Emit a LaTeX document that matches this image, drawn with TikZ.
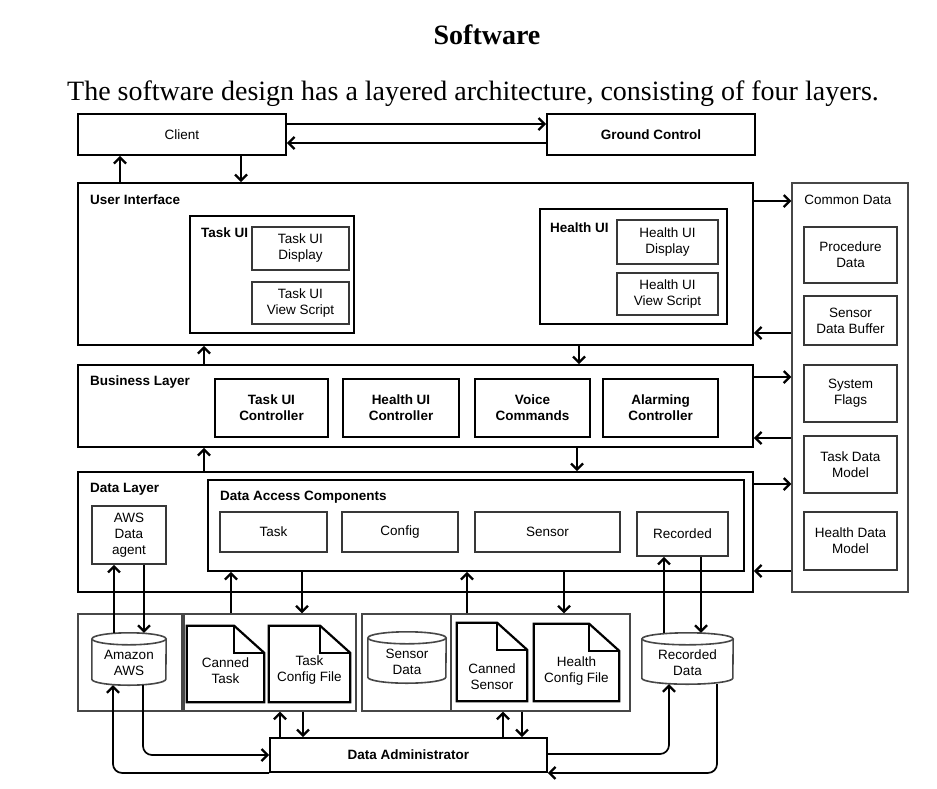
\documentclass[tikz,border=0pt]{standalone}
\usepackage{fontspec}
\setmainfont{Liberation Serif}
\setsansfont{Liberation Sans}
\usetikzlibrary{arrows.meta,calc}
\newcommand\mycyl[2]{%
  \draw[cylline] ($(#1.north west)+(0,6)$) -- ($(#1.south west)+(0,-6)$)
    arc[start angle=180,end angle=0,x radius=#2,y radius=6] -- ($(#1.north east)+(0,6)$);
  \draw[cylline] ($(#1.north)+(0,6)$) ellipse [x radius=#2, y radius=6];}
\newcommand\mydoc[1]{%
  \draw[docline] (#1.north west) -- ($(#1.north east)+(-30,0)$) -- ($(#1.north east)+(0,27)$)
    -- (#1.south east) -- (#1.south west) -- cycle;
  \draw[docline] ($(#1.north east)+(-30,0)$) -- ($(#1.north east)+(-30,27)$) -- ($(#1.north east)+(0,27)$);}
\tikzset{
 sz/.style 2 args={minimum width=#1pt, minimum height=#2pt},
 box/.style={draw=black, line width=1.9pt, inner sep=0pt, font=\sffamily\fontsize{13.5}{16}\selectfont, align=center},
 bbox/.style={box, font=\sffamily\bfseries\fontsize{13.5}{16}\selectfont},
 ibox/.style={box, draw=black!78, line width=1.8pt},
 grp/.style={draw=black!72, line width=1.4pt, inner sep=0pt},
 shp/.style={inner sep=0pt},
 lbl/.style={font=\sffamily\fontsize{13.5}{16}\selectfont, align=center, inner sep=0pt},
 txt/.style={font=\sffamily\fontsize{13.5}{16}\selectfont, align=center, inner sep=0pt},
 btxt/.style={font=\sffamily\bfseries\fontsize{13.5}{16}\selectfont, inner sep=0pt},
 arr/.style={line width=1.7pt, -{Straight Barb[length=6pt,width=12pt,line width=2.2pt]}},
 cylline/.style={draw=black!72, line width=1.6pt},
 docline/.style={draw=black, line width=2.2pt, line join=miter},
}
\begin{document}
\begin{tikzpicture}[x=1pt,y=-1pt]
\useasboundingbox (0,0) rectangle (937,788);
% titles
\node[font=\bfseries\fontsize{28}{32}\selectfont, inner sep=0pt] (title) at (487,35) {Software};
\node[font=\fontsize{28}{32}\selectfont, inner sep=0pt, anchor=base] (sub) at (473,100) {The software design has a layered architecture, consisting of four layers.};
% top
\node[box, sz={208}{41}] (client) at (182,134.5) {Client};
\node[bbox, sz={208}{41}] (gc) at (651,134.5) {Ground Control};
% user interface
\node[box, sz={675}{162}] (ui) at (415.5,264) {};
\node[btxt, anchor=west] (uil) at (90,200) {User Interface};
\node[box, sz={164}{117}] (tui) at (272,274.5) {};
\node[btxt, anchor=west] (tuil) at (201,233) {Task UI};
\node[ibox, sz={97}{43}] (tuid) at (300.5,248.5) {Task UI\\Display};
\node[ibox, sz={97}{42}] (tuiv) at (300.5,303) {Task UI\\View Script};
\node[box, sz={187}{115}] (hui) at (633.5,266.5) {};
\node[btxt, anchor=west] (huil) at (550,228) {Health UI};
\node[ibox, sz={101}{44}] (huid) at (667.5,242) {Health UI\\Display};
\node[ibox, sz={101}{42}] (huiv) at (667.5,294) {Health UI\\View Script};
% business layer
\node[box, sz={675}{82}] (bl) at (415.5,406) {};
\node[btxt, anchor=west] (bll) at (90,382) {Business Layer};
\node[bbox, sz={113}{58}] (tuc) at (271.5,408) {Task UI\\Controller};
\node[bbox, sz={116}{58}] (huc) at (401,408) {Health UI\\Controller};
\node[bbox, sz={115}{58}] (vc) at (532.5,408) {Voice\\Commands};
\node[bbox, sz={115}{58}] (ac) at (660.5,408) {Alarming\\Controller};
% data layer
\node[box, sz={675}{120}] (dl) at (415.5,532) {};
\node[btxt, anchor=west] (dll) at (90,489) {Data Layer};
\node[ibox, sz={74}{58}] (agent) at (129,535) {AWS\\Data\\agent};
\node[box, sz={536}{91}] (dac) at (476,525.5) {};
\node[btxt, anchor=west] (dacl) at (220,497) {Data Access Components};
\node[ibox, sz={107}{40}] (dtask) at (273.5,532) {Task};
\node[ibox, sz={116}{40}] (dconf) at (400,532) {Config};
\node[ibox, sz={145}{40}] (dsens) at (547.5,532) {Sensor};
\node[ibox, sz={91}{44}] (drec) at (682.5,534) {Recorded};
% common data
\node[grp, sz={116}{409}] (cd) at (850,387.5) {};
\node[txt] (cdl) at (848,200) {Common Data};
\node[ibox, sz={93}{56}] (pd) at (850.5,255) {Procedure\\Data};
\node[ibox, sz={93}{49}] (sdb) at (850.5,320.5) {Sensor\\Data Buffer};
\node[ibox, sz={93}{57}] (sf) at (850.5,393.5) {System\\Flags};
\node[ibox, sz={93}{57}] (tdm) at (850.5,464.5) {Task Data\\Model};
\node[ibox, sz={93}{58}] (hdm) at (850.5,541) {Health Data\\Model};
% storage groups
\node[grp, sz={104}{97}] (g1a) at (130,662.5) {};
\node[grp, sz={172}{97}] (g1b) at (270,662.5) {};
\node[grp, sz={89}{97}] (g2a) at (406.5,662.5) {};
\node[grp, sz={179}{97}] (g2b) at (540.5,662.5) {};
% cylinders
\node[shp, sz={74}{52}, label={[lbl, yshift=-4pt]center:{Amazon\\AWS}}] (aws) at (129,659) {};
\mycyl{aws}{37}
\node[shp, sz={78}{51}, label={[lbl, yshift=-4pt]center:{Sensor\\Data}}] (sdata) at (407,657.5) {};
\mycyl{sdata}{39}
\node[shp, sz={91}{51}, label={[lbl, yshift=-4pt]center:{Recorded\\Data}}] (rdata) at (687.5,658.5) {};
\mycyl{rdata}{45.5}
% documents
\node[shp, sz={77}{76}, label={[lbl, yshift=-7pt]center:{Canned\\Task}}] (ctask) at (225.5,664) {};
\mydoc{ctask}
\node[shp, sz={81}{76}, label={[lbl, yshift=-6pt]center:{Task\\Config File}}] (tcf) at (309.5,664) {};
\mydoc{tcf}
\node[shp, sz={70}{78}, label={[lbl, yshift=-15pt]center:{Canned\\Sensor}}] (csens) at (492,662) {};
\mydoc{csens}
\node[shp, sz={85}{77}, label={[lbl, yshift=-8pt]center:{Health\\Config File}}] (hcf) at (576.5,662.5) {};
\mydoc{hcf}
% admin
\node[bbox, sz={277}{34}] (admin) at (408.5,755) {Data Administrator};
% connectors
\draw[arr] (client.east |- 0,124) -- (gc.west |- 0,124);
\draw[arr] (gc.west |- 0,143) -- (client.east |- 0,143);
\draw[arr] (ui.north -| 120,0) -- (client.south -| 120,0);
\draw[arr] (client.south -| 241,0) -- (ui.north -| 241,0);
\draw[arr] (bl.north -| 204,0) -- (ui.south -| 204,0);
\draw[arr] (ui.south -| 579,0) -- (bl.north -| 579,0);
\draw[arr] (dl.north -| 204,0) -- (bl.south -| 204,0);
\draw[arr] (bl.south -| 577,0) -- (dl.north -| 577,0);
\draw[arr] (ui.east |- 0,201) -- (cd.west |- 0,201);
\draw[arr] (cd.west |- 0,333) -- (ui.east |- 0,333);
\draw[arr] (bl.east |- 0,377) -- (cd.west |- 0,377);
\draw[arr] (cd.west |- 0,438) -- (bl.east |- 0,438);
\draw[arr] (dl.east |- 0,484) -- (cd.west |- 0,484);
\draw[arr] (cd.west |- 0,571) -- (dl.east |- 0,571);
\draw[arr] (aws.north -| 114,0) -- (agent.south -| 114,0);
\draw[arr] (agent.south -| 144,0) -- (aws.north -| 144,0);
\draw[arr] (g1b.north -| 231,0) -- (dac.south -| 231,0);
\draw[arr] (dac.south -| 302,0) -- (g1b.north -| 302,0);
\draw[arr] (g2b.north -| 467,0) -- (dac.south -| 467,0);
\draw[arr] (dac.south -| 564,0) -- (g2b.north -| 564,0);
\draw[arr] (rdata.north -| 664,0) -- (drec.south -| 664,0);
\draw[arr] (drec.south -| 701,0) -- (rdata.north -| 701,0);
\draw[arr] (admin.north -| 280,0) -- (g1b.south -| 280,0);
\draw[arr] (g1b.south -| 303,0) -- (admin.north -| 303,0);
\draw[arr] (admin.north -| 503,0) -- (g2b.south -| 503,0);
\draw[arr] (g2b.south -| 522,0) -- (admin.north -| 522,0);
\draw[arr, rounded corners=9pt] (aws.south -| 143,0) |- (admin.west);
\draw[arr, rounded corners=9pt] (admin.south west) -| (aws.south -| 113,0);
\draw[arr, rounded corners=9pt] (admin.east |- 0,754) -| (rdata.south -| 669,0);
\draw[arr, rounded corners=9pt] (rdata.south -| 717,0) |- (admin.south east);
\end{tikzpicture}
\end{document}
